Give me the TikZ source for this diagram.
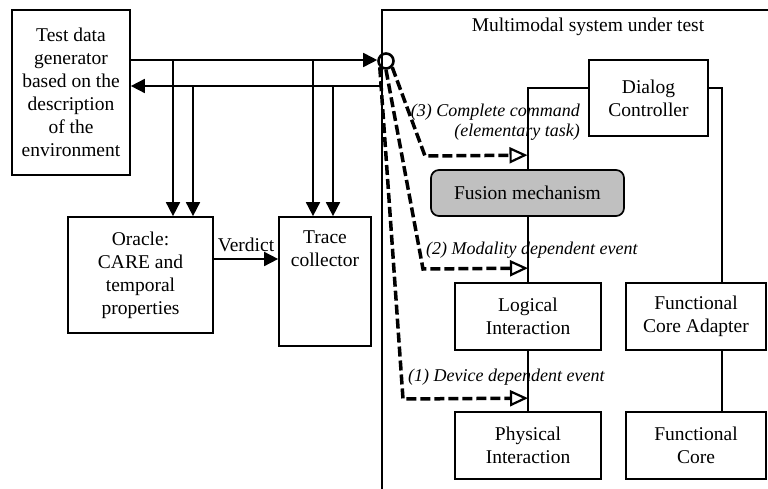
\documentclass[tikz,border=0pt]{standalone}
\usepackage{fontspec}
\setmainfont{Liberation Serif}
\usetikzlibrary{arrows.meta,calc}
\definecolor{fusiongray}{RGB}{192,192,192}

\begin{document}
\begin{tikzpicture}[x=1pt,y=-1pt,
  every node/.style={font=\fontsize{19.5}{23}\selectfont},
  box/.style={draw,line width=1.7pt,align=center,inner sep=0pt},
  arr/.style={line width=1.7pt,-{Triangle[length=14pt,width=14pt]}},
  evt/.style={line width=3.5pt,dash pattern=on 10pt off 4pt,
    -{Triangle[open,fill=white,length=18pt,width=16pt,line width=2.2pt]}},
  lbl/.style={font=\fontsize{18}{20}\selectfont\itshape,align=right,inner sep=0pt}]
  \useasboundingbox (0,0) rectangle (768,489);

  % system under test
  \node[box,minimum width=412pt,minimum height=490pt,
        label={[anchor=north,yshift=-5pt]north:Multimodal system under test}] (sys) at (588,255) {};

  \node[box,minimum width=118pt,minimum height=165pt] (gen) at (71,92.5) {Test data\\generator\\based on the\\description\\of the\\environment};
  \node[box,minimum width=145pt,minimum height=116pt] (oracle) at (140.5,275) {Oracle:\\CARE and\\temporal\\properties};
  \node[box,minimum width=92pt,minimum height=129pt,
        label={[anchor=north,align=center,yshift=-11pt]north:Trace\\collector}] (trace) at (325,281.5) {};

  \node[box,minimum width=119pt,minimum height=76pt] (dialog) at (648.5,98) {Dialog\\Controller};
  \node[box,minimum width=146pt,minimum height=67pt] (logical) at (528,316.5) {Logical\\Interaction};
  \node[box,minimum width=146pt,minimum height=67pt] (physical) at (528,445.5) {Physical\\Interaction};
  \node[box,minimum width=140pt,minimum height=67pt] (fca) at (696,316.5) {Functional\\Core Adapter};
  \node[box,minimum width=140pt,minimum height=67pt] (fc) at (696,445.5) {Functional\\Core};

  \node[circle,draw,line width=2.6pt,minimum size=15pt,inner sep=0pt] (probe) at (386,61) {};

  % generator <-> system
  \coordinate (go) at ($(gen.east)+(0,-32.5)$);
  \coordinate (gi) at ($(gen.east)+(0,-6.5)$);
  \draw[arr] (go) -- (go -| probe.west);
  \draw[arr] (gi -| sys.west) -- (gi);

  \coordinate (o1) at (173,60);
  \coordinate (o2) at (193,86);
  \coordinate (t1) at (313,60);
  \coordinate (t2) at (333,86);
  \draw[arr] (o1) -- (o1 |- oracle.north);
  \draw[arr] (o2) -- (o2 |- oracle.north);
  \draw[arr] (t1) -- (t1 |- trace.north);
  \draw[arr] (t2) -- (t2 |- trace.north);

  \coordinate (v) at ($(oracle.east)+(0,-16)$);
  \draw[arr] (v) -- (v -| trace.west) node[midway,above=6pt,inner sep=0pt] {Verdict};

  % architecture links
  \coordinate (dl) at ($(dialog.west)+(0,-10)$);
  \coordinate (dr) at ($(dialog.east)+(0,-10)$);
  \coordinate (fcaIn) at ($(fca.north)+(26,0)$);
  \coordinate (fcaOut) at ($(fca.south)+(26,0)$);
  \draw[line width=1.5pt] (dl) -| (logical.north);
  \draw[line width=1.5pt] (logical.south) -- (physical.north);
  \draw[line width=1.5pt] (dr) -| (fcaIn);
  \draw[line width=1.5pt] (fcaOut) -- (fcaOut |- fc.north);

  \node[box,fill=fusiongray,rounded corners=8pt,minimum width=193pt,minimum height=46pt] (fusion) at (527.5,193) {Fusion mechanism};

  % observed events
  \coordinate (e3) at ($(fusion.north)+(0,-14)$);
  \coordinate (e2) at ($(logical.north)+(0,-14)$);
  \coordinate (e1) at ($(physical.north)+(0,-13)$);
  \coordinate (b3) at (425,156);
  \coordinate (b2) at (423,269);
  \coordinate (b1) at (403,399);
  \draw[evt] (probe.south east) -- (b3) -- (e3);
  \draw[evt] (probe.south) -- (b2) -- (e2);
  \draw[evt] (probe.south west) -- (b1) -- (e1);

  \node[lbl,anchor=east] (l3) at (580,122) {(3) Complete command\\(elementary task)};
  \node[lbl,anchor=west] (l2) at (426,250) {(2) Modality dependent event};
  \node[lbl,anchor=west] (l1) at (408,377) {(1) Device dependent event};
\end{tikzpicture}
\end{document}
